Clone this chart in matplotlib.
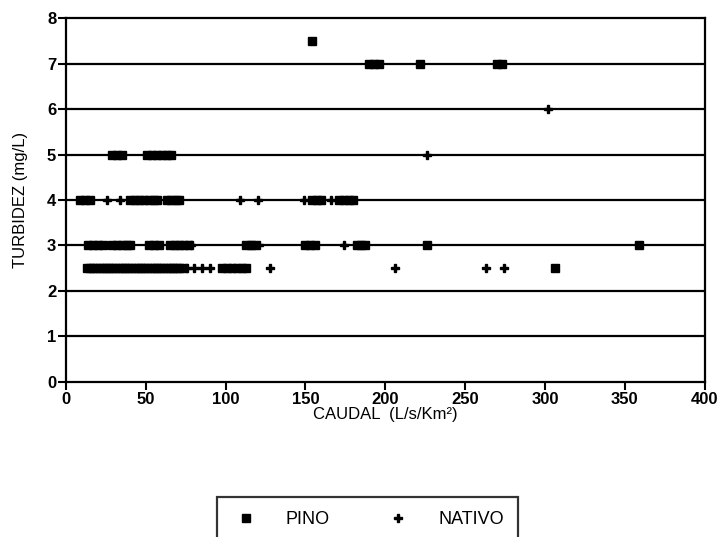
"""
Turbidez vs caudal, PINO / NATIVO.
"""
import matplotlib
matplotlib.use("Agg")
import matplotlib.pyplot as plt

# --- data ---
pino_x = [13, 15, 17, 19, 21, 23, 25, 27, 29, 31, 33, 35, 37, 39, 41, 43, 45, 47, 49, 51,
          53, 55, 57, 59, 61, 63, 65, 67, 69, 71, 73, 98, 101, 104, 107, 110, 113, 306,
          14, 17, 20, 23, 29, 32, 35, 38, 40, 52, 55, 58, 65, 68, 71, 74, 77, 113, 116, 118,
          150, 153, 156, 182, 185, 187, 226, 359,
          9, 12, 15, 40, 43, 46, 49, 52, 55, 57, 63, 66, 69, 71, 154, 157, 160, 171, 174, 177, 180,
          29, 32, 35, 51, 54, 57, 60, 63, 66,
          190, 193, 196, 222, 270, 273,
          154]
pino_y = [2.5] * 38 + [3] * 28 + [4] * 21 + [5] * 9 + [7] * 6 + [7.5]

nativo_x = [76, 80, 85, 90, 128, 206, 263, 274,
            78, 121, 174,
            26, 34, 109, 120, 149, 166,
            226,
            302]
nativo_y = [2.5] * 8 + [3] * 3 + [4] * 6 + [5] + [6]

y_ticks = [0, 1, 2, 3, 4, 5, 6, 7, 8]
x_ticks = [0, 50, 100, 150, 200, 250, 300, 350, 400]

TICK_FONT = {"family": "Liberation Sans", "weight": "bold", "size": 12}


def main():
    fig = plt.figure(figsize=(7.25, 5.37), dpi=100)
    ax = fig.add_axes([0.091, 0.289, 0.881, 0.677])

    for yv in y_ticks[1:-1]:
        ax.axhline(yv, color="black", lw=1.6, zorder=1)

    ax.plot(pino_x, pino_y, ls="none", marker="s", ms=6, color="black",
            label="PINO", zorder=3)
    ax.plot(nativo_x, nativo_y, ls="none", marker="P", ms=6, color="black",
            label="NATIVO", zorder=3)

    ax.set_xlim(0, 400)
    ax.set_ylim(0, 8)
    ax.set_xticks(x_ticks)
    ax.set_yticks(y_ticks)
    ax.set_xticklabels([str(v) for v in x_ticks], fontdict=TICK_FONT)
    ax.set_yticklabels([str(v) for v in y_ticks], fontdict=TICK_FONT)
    ax.tick_params(direction="out", length=6, width=1.5, pad=1)
    for sp in ax.spines.values():
        sp.set_linewidth(1.6)

    ax.set_xlabel("CAUDAL  (L/s/Km\u00b2)", family="Liberation Sans", fontsize=12, labelpad=0)
    ax.set_ylabel("TURBIDEZ (mg/L)", family="Liberation Sans", fontsize=12, labelpad=14)

    leg = fig.legend(loc="upper center", bbox_to_anchor=(0.507, 0.075), ncol=2,
                     frameon=True, fancybox=False, edgecolor="black",
                     prop={"family": "Liberation Sans", "size": 13},
                     columnspacing=3.0, handletextpad=1.4, borderpad=0.8,
                     borderaxespad=0, handlelength=1.6, markerscale=1.0)
    leg.get_frame().set_linewidth(1.6)

    fig.savefig("out.png", dpi=100)
    plt.close(fig)


if __name__ == "__main__":
    main()
